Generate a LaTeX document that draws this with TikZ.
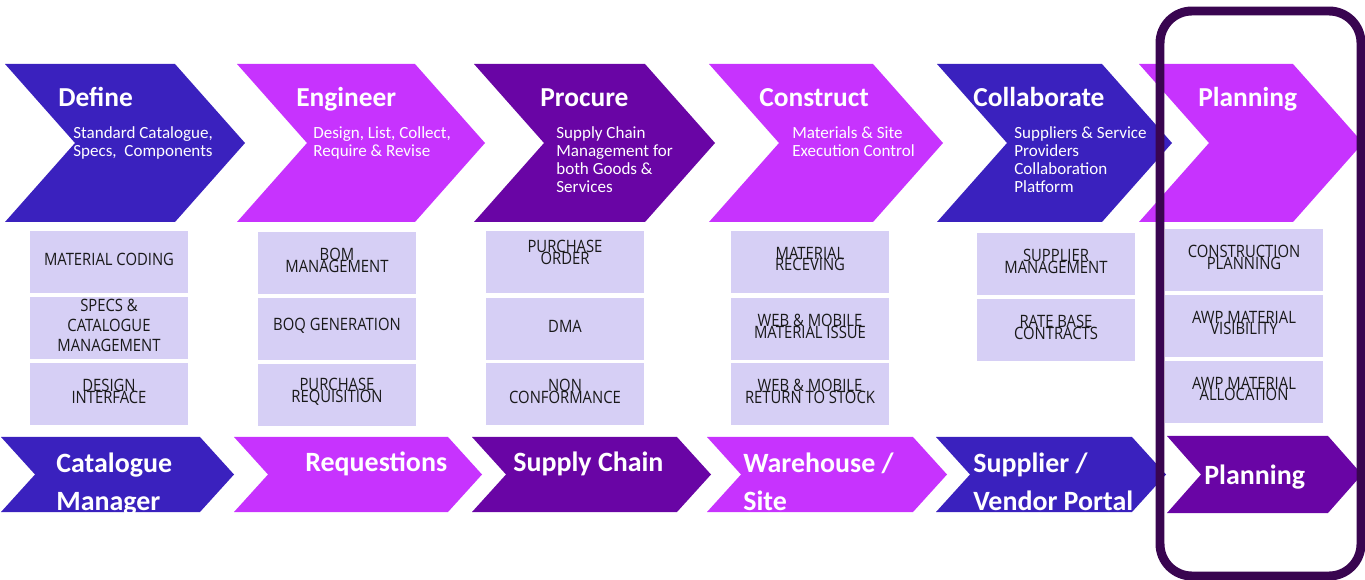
\documentclass[tikz,border=0pt]{standalone}
\usepackage{fontspec}
\setmainfont{Carlito}
\newfontfamily\cellfont[FakeStretch=0.87]{Open Sans}
\usetikzlibrary{positioning}
\definecolor{defblue}{HTML}{3A21BE}
\definecolor{engpink}{HTML}{C733FE}
\definecolor{procviolet}{HTML}{6905A5}
\definecolor{celllav}{HTML}{D6CFF5}
\definecolor{framepurple}{HTML}{390550}
\lineskiplimit=-20pt

\newcommand{\chevfill}[6]{\fill[#1] (#2,#4) -- (#3,#4) -- ({#3+#6},{(#4+#5)/2}) -- (#3,#5) -- (#2,#5) -- ({#2+#6},{(#4+#5)/2}) -- cycle;}

\begin{document}
\begin{tikzpicture}[x=0.02cm, y=-0.02cm,
        ttl/.style={anchor=base west, inner sep=0, text=white, font=\fontsize{15.6}{18}\selectfont\bfseries},
        sub/.style={anchor=base west, inner sep=0, text=white, align=left, font=\fontsize{9.7}{10.25}\selectfont},
        btm/.style={anchor=base west, inner sep=0, text=white, align=left, font=\fontsize{15.9}{21.6}\selectfont\bfseries},
        cell/.style={fill=celllav, minimum width=3.16cm, minimum height=1.26cm, inner sep=0},
        celltxt/.style={inner sep=0, align=center, text=black!90, yshift=0.06cm,
            font=\cellfont\fontsize{9.7}{6.8}\selectfont},
        loose/.style={font=\cellfont\fontsize{9.7}{11.4}\selectfont}]
    \useasboundingbox (0,0) rectangle (1365,580);

    \chevfill{defblue}{5}{175}{64}{222}{70}
    \chevfill{engpink}{237}{415}{64}{222}{70}
    \chevfill{procviolet}{474}{645}{64}{222}{70}
    \chevfill{engpink}{709}{873}{64}{222}{70}
    \chevfill{defblue}{937}{1102}{64}{222}{70}
    \chevfill{engpink}{1139}{1293}{64}{222}{70}

    \node[ttl] (define) at (58,107) {Define};
    \node[sub] (definesub) at (73,157) {Standard Catalogue,\\Specs,\ \ Components};
    \node[ttl] (engineer) at (296,107) {Engineer};
    \node[sub] (engineersub) at (313,157) {Design, List, Collect,\\Require \& Revise};
    \node[ttl] (procure) at (540,107) {Procure};
    \node[sub] (procuresub) at (556,193) {Supply Chain\\Management for\\both Goods \&\\Services};
    \node[ttl] (construct) at (759,107) {Construct};
    \node[sub] (constructsub) at (792,157) {Materials \& Site\\Execution Control};
    \node[ttl] (collab) at (973,107) {Collaborate};
    \node[sub] (collabsub) at (1014,193) {Suppliers \& Service\\Providers\\Collaboration\\Platform};
    \node[ttl] (plantop) at (1198,107) {Planning};

    \node[cell] (c11) at (109,262) {};
    \node[cell] (c12) at (109,328) {};
    \node[cell] (c13) at (109,394) {};
    \node[celltxt] (t11) at (c11) {MATERIAL CODING};
    \node[celltxt, loose] (t12) at (c12) {SPECS \&\\CATALOGUE\\MANAGEMENT};
    \node[celltxt] (t13) at (c13) {DESIGN\\INTERFACE};

    \node[cell] (c21) at (337,263) {};
    \node[cell] (c22) at (337,329) {};
    \node[cell] (c23) at (337,395) {};
    \node[celltxt] (t21) at (c21) {BOM\\MANAGEMENT};
    \node[celltxt] (t22) at (c22) {BOQ GENERATION};
    \node[celltxt] (t23) at (c23) {PURCHASE\\REQUISITION};

    \node[cell] (c31) at (565,262) {};
    \node[cell] (c32) at (565,329) {};
    \node[cell] (c33) at (565,394) {};
    \node[celltxt, yshift=0.13cm] (t31) at (c31) {PURCHASE\\ORDER};
    \node[celltxt] (t32) at (c32) {DMA};
    \node[celltxt] (t33) at (c33) {NON\\CONFORMANCE};

    \node[cell] (c41) at (810,262) {};
    \node[cell] (c42) at (810,329) {};
    \node[cell] (c43) at (810,394) {};
    \node[celltxt] (t41) at (c41) {MATERIAL\\RECEVING};
    \node[celltxt] (t42) at (c42) {WEB \& MOBILE\\MATERIAL ISSUE};
    \node[celltxt] (t43) at (c43) {WEB \& MOBILE\\RETURN TO STOCK};

    \node[cell] (c51) at (1056,264) {};
    \node[cell] (c52) at (1056,330) {};
    \node[celltxt] (t51) at (c51) {SUPPLIER\\MANAGEMENT};
    \node[celltxt] (t52) at (c52) {RATE BASE\\CONTRACTS};

    \node[cell] (c61) at (1244,260) {};
    \node[cell] (c62) at (1244,326) {};
    \node[cell] (c63) at (1244,392) {};
    \node[celltxt] (t61) at (c61) {CONSTRUCTION\\PLANNING};
    \node[celltxt] (t62) at (c62) {AWP MATERIAL\\VISIBILITY};
    \node[celltxt] (t63) at (c63) {AWP MATERIAL\\ALLOCATION};

    \chevfill{defblue}{1}{200}{437}{512}{34}
    \chevfill{engpink}{234}{448}{437}{512}{34}
    \chevfill{procviolet}{472}{677}{437}{512}{34}
    \chevfill{engpink}{707}{913}{437}{512}{34}
    \chevfill{defblue}{936}{1132}{437}{512}{34}
    \chevfill{procviolet}{1167}{1328}{436}{513}{34}

    \node[btm] (catalogue) at (56,510) {Catalogue\\Manager};
    \node[btm] (requestions) at (305,472) {Requestions};
    \node[btm] (supplychain) at (513,472) {Supply Chain};
    \node[btm] (warehouse) at (743,510) {Warehouse /\\Site};
    \node[btm] (vendor) at (973,510) {Supplier /\\Vendor Portal};
    \node[btm] (planbtm) at (1204,484) {Planning};

    \draw[framepurple, line width=5.1pt, rounded corners=0.64cm] (1160,11) rectangle (1361,576);
\end{tikzpicture}
\end{document}
